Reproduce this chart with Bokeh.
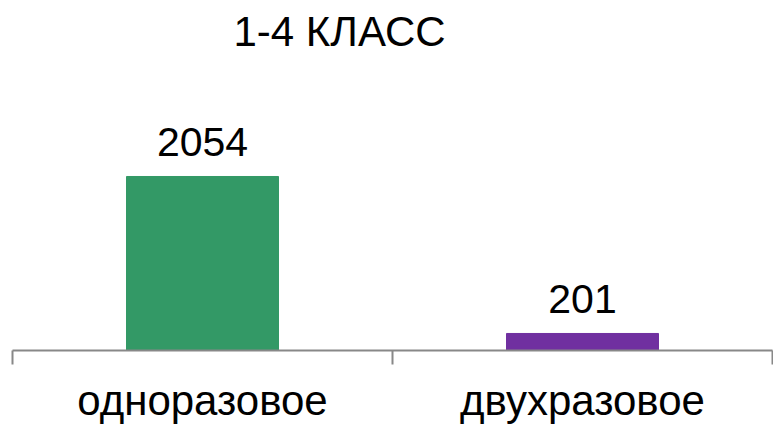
from bokeh.plotting import figure
from bokeh.models import ColumnDataSource, FixedTicker, LabelSet, Range1d
from bokeh.core.properties import value
from bokeh.embed import file_html
from bokeh.resources import INLINE

title_text = "1-4 КЛАСС"
categories = ["одноразовое", "двухразовое"]
values = [2054, 201]
colors = ["#339966", "#7030A0"]

xs = [i + 0.5 for i in range(len(categories))]
src = ColumnDataSource(dict(x=xs, top=values, color=colors, label=[str(v) for v in values]))

p = figure(width=773, height=426, output_backend="svg", toolbar_location=None,
           x_range=Range1d(0, len(categories)), y_range=Range1d(0, 3435),
           min_border_left=12, min_border_right=1, min_border_top=0, min_border_bottom=0)

p.title.text = title_text
p.title.align = "left"
p.title.offset = 221
p.title.text_font = "Liberation Sans"
p.title.text_font_size = "42px"
p.title.text_font_style = "normal"
p.title.text_color = "#000000"
p.title.standoff = 10

p.vbar(x="x", top="top", width=0.4, bottom=0, color="color", source=src)

labels = LabelSet(x="x", y="top", text="label", source=src, text_align="center",
                  text_baseline="alphabetic", y_offset=20, text_font=value("Liberation Sans"),
                  text_font_size="41px", text_color="#000000")
p.add_layout(labels)

p.yaxis.visible = False
p.xgrid.visible = False
p.ygrid.visible = False
p.outline_line_color = None

ax = p.xaxis[0]
ax.ticker = FixedTicker(ticks=xs, minor_ticks=[float(i) for i in range(len(categories) + 1)])
ax.major_label_overrides = {x: c for x, c in zip(xs, categories)}
ax.major_tick_out = 0
ax.major_tick_in = 0
ax.minor_tick_out = 14
ax.minor_tick_in = 0
ax.minor_tick_line_color = "#888888"
ax.minor_tick_line_width = 2
ax.axis_line_color = "#888888"
ax.axis_line_width = 2
ax.major_label_text_font = "Liberation Sans"
ax.major_label_text_font_size = "42px"
ax.major_label_text_color = "#000000"
ax.major_label_standoff = 12

open("out.html", "w").write(file_html(p, INLINE))
